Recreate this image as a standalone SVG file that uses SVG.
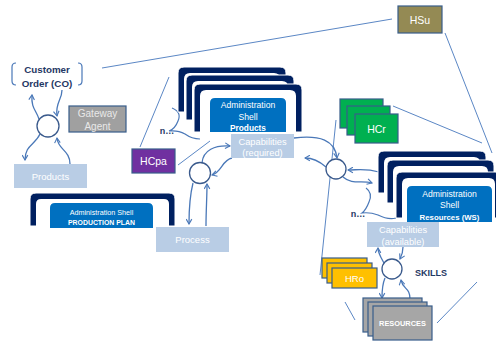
<svg xmlns="http://www.w3.org/2000/svg" width="496" height="343" viewBox="0 0 496 343">
<defs>
<marker id="ah" viewBox="0 0 10 10" refX="8" refY="5" markerWidth="7" markerHeight="7" orient="auto" markerUnits="userSpaceOnUse">
<path d="M1 1 L8 5 L1 9" fill="none" stroke="#4a78b8" stroke-width="1.6"/>
</marker>
<style>
text{font-family:"Liberation Sans",Arial,sans-serif;text-anchor:middle}
.ln{stroke:#5b87c5;stroke-width:1;fill:none}
.ar{stroke:#4a78b8;stroke-width:1.3;fill:none;marker-end:url(#ah)}
.br{stroke:#4a78b8;stroke-width:1.2;fill:none}
.circ{fill:#fff;stroke:#3a5a8c;stroke-width:1.3}
.lb{fill:#b9cde5}
.lbt{fill:#fff}
.frame{fill:#002060;stroke:#fff;stroke-width:1}
.inner{fill:#fff}
.blue{fill:#0070c0}
.wt{fill:#fff}
.navy{fill:#1f3864;font-weight:bold}
.bx{stroke:#385d8a;stroke-width:1.2}
</style>
</defs>

<g id="connectors">
<line class="ln" x1="102" y1="68" x2="392" y2="19"/>
<line class="ln" x1="445" y1="33" x2="492" y2="153"/>
<line class="ln" x1="169" y1="77" x2="140" y2="147"/>
<line class="ln" x1="178" y1="165" x2="210" y2="141"/>
<line class="ln" x1="393" y1="106" x2="482" y2="143"/>
<line class="ln" x1="336" y1="120" x2="320" y2="275"/>
<line class="ln" x1="345" y1="302" x2="355" y2="320"/>
<line class="ln" x1="477" y1="282" x2="437" y2="323"/>
<path class="ar" d="M39 119 C36 110 31 108 32 95"/>
<path class="ar" d="M62 90 C62 100 55 103 57 116"/>
<path class="ar" d="M40 134 C35 145 25 145 25 160"/>
<path class="ar" d="M70 164 C70 150 58 150 57 138"/>
<path class="ar" d="M202 163 C203 150 215 145 230 146"/>
<path class="ar" d="M232 158 C222 160 222 172 212 175"/>
<path class="ar" d="M193 183 C190 195 189 210 189 224"/>
<path class="ar" d="M206 226 C206 210 207 198 207 184"/>
<path class="ar" d="M294 138 C320 135 335 140 337 158"/>
<path class="ar" d="M326 167 C318 160 312 158 305 158"/>
<path class="ar" d="M379 172 C365 168 358 170 348 170"/>
<path class="ar" d="M343 177 C352 185 362 180 372 183"/>
<path class="ar" d="M384 263 C380 256 378 253 378 248"/>
<path class="ar" d="M403 247 C403 252 402 255 400 259"/>
<path class="ar" d="M385 278 C382 285 382 290 382 298"/>
<path class="ar" d="M410 299 C410 287 403 290 401 280"/>
<path class="br" d="M172 108 Q182 112 178 121 Q175 129 169 131 Q178 130 185 134 Q192 139 200 139"/>
<path class="br" d="M366 188 Q373 193 369 202 Q366 210 362 213 Q370 212 378 215 Q388 220 396 218"/>
</g>

<g id="customer-order">
<path class="br" d="M16 63 Q12 63 12 67 V81 Q12 85 16 85" stroke="#6f9bd1"/>
<path class="br" d="M78 63 Q82 63 82 67 V81 Q82 85 78 85" stroke="#6f9bd1"/>
<text x="47" y="73" class="navy" font-size="9.8">Customer</text>
<text x="47" y="87" class="navy" font-size="9.8">Order (CO)</text>
</g>

<g id="circle1"><circle class="circ" cx="48" cy="126" r="11"/></g>

<g id="gateway-agent">
<rect x="69" y="106" width="57" height="26" fill="#a0a0a0" class="bx" stroke="#4d5d73"/>
<text x="97.5" y="117" fill="#e8e8e8" font-size="10">Gateway</text>
<text x="97.5" y="129.5" fill="#e8e8e8" font-size="10">Agent</text>
</g>

<g id="products">
<rect class="lb" x="14" y="164" width="73" height="24"/>
<text class="lbt" x="50.5" y="179.5" font-size="9.5">Products</text>
</g>

<g id="production-plan">
<path class="frame" d="M30 226 V199 Q30 193 36 193 H169 Q175 193 175 199 V226 Z"/>
<path class="inner" d="M36 226 V204 Q36 199 41 199 H164 Q169 199 169 204 V226 Z"/>
<path class="blue" d="M50 228 V208 Q50 203 55 203 H148 Q153 203 153 208 V228 Z"/>
<text class="wt" x="101.5" y="215" font-size="7.2">Administration Shell</text>
<text class="wt" x="101.5" y="225" font-size="6.9" font-weight="bold">PRODUCTION PLAN</text>
</g>

<g id="process">
<rect class="lb" x="156" y="227" width="73" height="25"/>
<text class="lbt" x="192.5" y="243" font-size="9.5">Process</text>
</g>

<g id="hcpa">
<rect x="132" y="149" width="43" height="24" fill="#7030a0" class="bx" stroke="#3e2a5a"/>
<text class="wt" x="153.5" y="165" font-size="10.5">HCpa</text>
</g>

<g id="as-products">
<path class="frame" d="M178 112 V73 Q178 67 184 67 H280 Q286 67 286 73 V112 Z"/>
<path class="inner" d="M184 112 V79 Q184 73 190 73 H274 Q280 73 280 79 V112 Z"/>
<path class="frame" d="M186 120 V81 Q186 75 192 75 H288 Q294 75 294 81 V120 Z"/>
<path class="inner" d="M192 120 V87 Q192 81 198 81 H282 Q288 81 288 87 V120 Z"/>
<path class="frame" d="M194 132 V90 Q194 84 200 84 H296 Q302 84 302 90 V132 Z"/>
<path class="inner" d="M200 132 V96 Q200 90 206 90 H290 Q296 90 296 96 V132 Z"/>
<path class="blue" d="M210 132 V103 Q210 98 215 98 H281 Q286 98 286 103 V132 Z"/>
<text class="wt" x="248" y="108" font-size="8.6">Administration</text>
<text class="wt" x="248" y="120" font-size="8.6">Shell</text>
<text class="wt" x="248" y="131" font-size="8.3" font-weight="bold">Products</text>
</g>

<g id="n-products"><text class="navy" x="167" y="134" font-size="9">n…</text></g>

<g id="cap-required">
<rect class="lb" x="231" y="134" width="63" height="24"/>
<text class="lbt" x="262.5" y="144.5" font-size="9.3">Capabilities</text>
<text class="lbt" x="262.5" y="156" font-size="9.3">(required)</text>
</g>

<g id="circle2"><circle class="circ" cx="200" cy="173" r="10.5"/></g>

<g id="hsu">
<rect x="398" y="6" width="44" height="27" fill="#948a54" class="bx"/>
<text class="wt" x="420" y="23.5" font-size="10.5">HSu</text>
</g>

<g id="hcr">
<rect x="340" y="99" width="43" height="29" fill="#00b050" class="bx"/>
<rect x="347" y="106" width="43" height="29" fill="#00b050" class="bx"/>
<rect x="355" y="114" width="43" height="29" fill="#00b050" class="bx"/>
<text class="wt" x="376.5" y="132.5" font-size="10.5">HCr</text>
</g>

<g id="circle3"><circle class="circ" cx="336" cy="169" r="10"/></g>

<g id="as-resources">
<path class="frame" d="M378 193 V157 Q378 151 384 151 H480 Q486 151 486 157 V193 Z"/>
<path class="inner" d="M384 193 V163 Q384 157 390 157 H474 Q480 157 480 163 V193 Z"/>
<path class="frame" d="M387 203 V166 Q387 160 393 160 H488 Q494 160 494 166 V203 Z"/>
<path class="inner" d="M393 203 V172 Q393 166 399 166 H482 Q488 166 488 172 V203 Z"/>
<path class="frame" d="M396 218 V178 Q396 172 402 172 H495 Q501 172 501 178 V218 Z"/>
<path class="inner" d="M402 218 V184 Q402 178 408 178 H489 Q495 178 495 184 V218 Z"/>
<path class="blue" d="M407 222 V191 Q407 186 412 186 H487 Q492 186 492 191 V222 Z"/>
<text class="wt" x="449.5" y="196.5" font-size="8.6">Administration</text>
<text class="wt" x="449.5" y="208" font-size="8.6">Shell</text>
<text class="wt" x="449.5" y="219.5" font-size="7.8" font-weight="bold">Resources (WS)</text>
</g>

<g id="n-resources"><text class="navy" x="358" y="217" font-size="9">n…</text></g>

<g id="cap-available">
<rect class="lb" x="367" y="222" width="72" height="25"/>
<text class="lbt" x="403" y="233" font-size="9.3">Capabilities</text>
<text class="lbt" x="403" y="245" font-size="9.3">(available)</text>
</g>

<g id="circle4"><circle class="circ" cx="392" cy="269" r="10"/></g>

<g id="skills"><text class="navy" x="431" y="276" font-size="9">SKILLS</text></g>

<g id="hro">
<rect x="322" y="258" width="45" height="20" fill="#ffc000" class="bx"/>
<rect x="327" y="263" width="45" height="20" fill="#ffc000" class="bx"/>
<rect x="332" y="268" width="45" height="20" fill="#ffc000" class="bx"/>
<text class="wt" x="354.5" y="281.5" font-size="9.5">HRo</text>
</g>

<g id="resources">
<rect x="363" y="298" width="59" height="34" fill="#a6a6a6" class="bx"/>
<rect x="368" y="302" width="59" height="34" fill="#a6a6a6" class="bx"/>
<rect x="373" y="306" width="59" height="34" fill="#a6a6a6" class="bx"/>
<text class="wt" x="402.5" y="326" font-size="7.4" font-weight="bold">RESOURCES</text>
</g>
</svg>
